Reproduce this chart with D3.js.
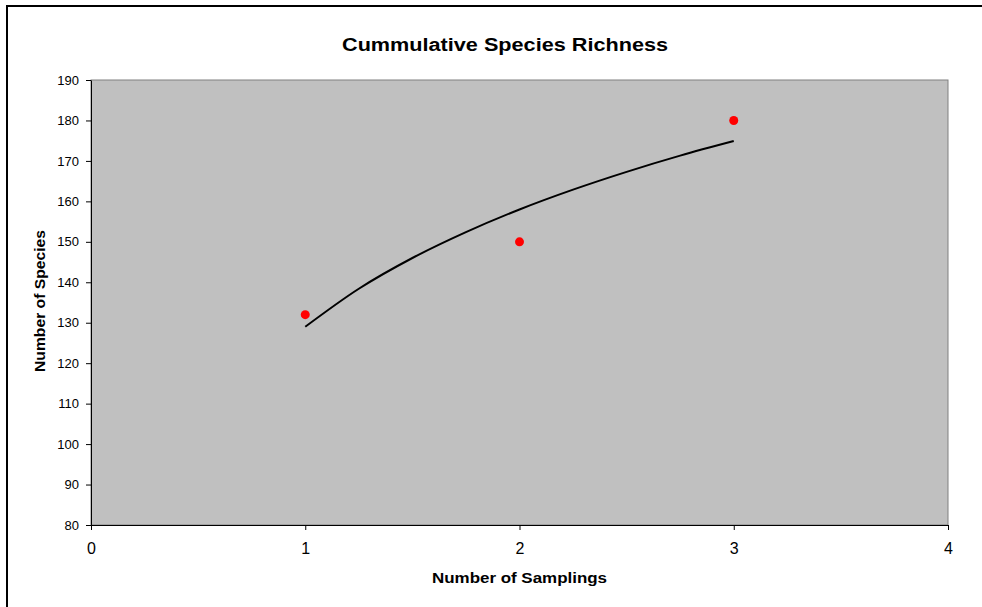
<!DOCTYPE html>
<html>
<head>
<meta charset="utf-8">
<script src="https://cdn.jsdelivr.net/npm/d3@7"></script>
<style>
  body { margin: 0; background: #fff; }
  text { font-family: "Liberation Sans", Arial, sans-serif; }
</style>
</head>
<body>
<svg id="chart" width="982" height="607"></svg>
<script>
// observed data
const samplings = [1, 2, 3];
const species = [132, 150, 180];

// logarithmic trendline
const trendX = [1, 1.25, 1.5, 1.75, 2, 2.25, 2.5, 2.75, 3];
const trendY = [129, 138.4, 146, 152.4, 158, 162.9, 167.3, 171.3, 174.9];

const xTicks = [0, 1, 2, 3, 4];
const yTicks = [80, 90, 100, 110, 120, 130, 140, 150, 160, 170, 180, 190];

const svg = d3.select("#chart");
const plotL = 91, plotR = 948, plotT = 80, plotB = 525;

const x = d3.scaleLinear().domain([0, 4]).range([plotL, plotR]);
const y = d3.scaleLinear().domain([80, 190]).range([plotB, plotT]);

// outer frame
svg.append("rect")
  .attr("x", 7).attr("y", 6)
  .attr("width", 980).attr("height", 620)
  .attr("fill", "none")
  .attr("stroke", "#000")
  .attr("stroke-width", 2);

// plot area
svg.append("rect")
  .attr("x", plotL).attr("y", plotT)
  .attr("width", plotR - plotL).attr("height", plotB - plotT)
  .attr("fill", "#c0c0c0")
  .attr("stroke", "#808080")
  .attr("stroke-width", 1);

// axes
const yAxis = svg.append("g")
  .attr("transform", `translate(${plotL},0)`)
  .call(d3.axisLeft(y).tickValues(yTicks).tickSize(5).tickPadding(7).tickSizeOuter(0));
yAxis.select(".domain").attr("stroke", "#000");
yAxis.selectAll("text").attr("font-size", "13px").attr("fill", "#000")
  .style("font-family", "'Liberation Sans', Arial, sans-serif");

const xAxis = svg.append("g")
  .attr("transform", `translate(0,${plotB})`)
  .call(d3.axisBottom(x).tickValues(xTicks).tickFormat(d3.format("d")).tickSize(5).tickPadding(13).tickSizeOuter(0));
xAxis.select(".domain").attr("stroke", "#000");
xAxis.selectAll("text").attr("font-size", "16px").attr("fill", "#000")
  .style("font-family", "'Liberation Sans', Arial, sans-serif");

// trendline
const line = d3.line()
  .x((d, i) => x(trendX[i]))
  .y((d) => y(d))
  .curve(d3.curveMonotoneX);

svg.append("path")
  .attr("d", line(trendY))
  .attr("fill", "none")
  .attr("stroke", "#000")
  .attr("stroke-width", 2);

// points
svg.append("g")
  .selectAll("circle")
  .data(species)
  .join("circle")
  .attr("cx", (d, i) => x(samplings[i]))
  .attr("cy", (d) => y(d))
  .attr("r", 4.5)
  .attr("fill", "#ff0000");

// titles (the original is stretched sideways, so fit them to its widths)
svg.append("text")
  .attr("x", 505).attr("y", 51)
  .attr("text-anchor", "middle")
  .attr("font-size", "18px")
  .attr("font-weight", "bold")
  .attr("textLength", 326)
  .attr("lengthAdjust", "spacingAndGlyphs")
  .text("Cummulative Species Richness");

svg.append("text")
  .attr("x", 519.5).attr("y", 583)
  .attr("text-anchor", "middle")
  .attr("font-size", "14px")
  .attr("font-weight", "bold")
  .attr("textLength", 175)
  .attr("lengthAdjust", "spacingAndGlyphs")
  .text("Number of Samplings");

svg.append("text")
  .attr("transform", "translate(45,301) rotate(-90)")
  .attr("text-anchor", "middle")
  .attr("font-size", "15px")
  .attr("font-weight", "bold")
  .attr("textLength", 142)
  .attr("lengthAdjust", "spacingAndGlyphs")
  .text("Number of Species");
</script>
</body>
</html>
